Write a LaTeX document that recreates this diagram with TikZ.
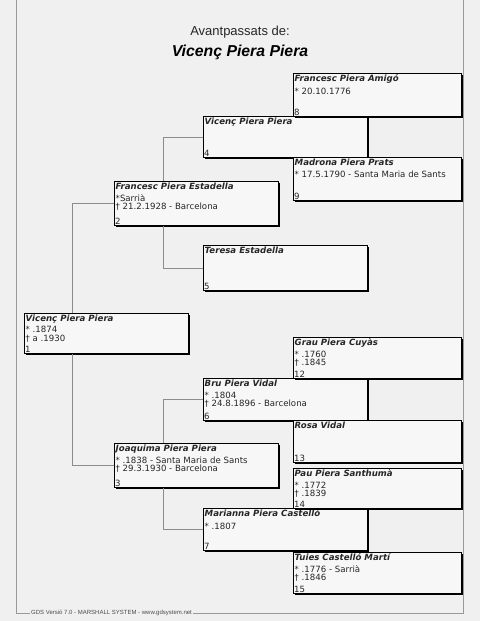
\documentclass[tikz,border=0pt]{standalone}
\usepackage{fontspec}
\setmainfont{DejaVu Sans}
\newfontfamily\titlefont{Liberation Sans}
\usetikzlibrary{positioning, shadows}

\begin{document}
\begin{tikzpicture}[
    x=1pt, y=-1pt,
    pbox/.style={rectangle, draw=black, line width=0.8pt, fill=black!3, anchor=north west, minimum width=164pt, inner sep=0pt,
        drop shadow={shadow xshift=1.6pt, shadow yshift=-1.6pt, fill=black, opacity=1}},
    wbox/.style={pbox, minimum width=168pt},
    nm/.style={anchor=north west, inner sep=1.5pt, align=left, font=\fontsize{8.6}{10.4}\selectfont, text=black!85},
    nr/.style={anchor=south west, inner sep=1pt, font=\fontsize{8.6}{9}\selectfont, text=black!85},
    link/.style={draw=black!45, line width=0.7pt},
    frame/.style={draw=black!40, line width=0.6pt}
]
    \newcommand{\nom}[1]{\textbf{\textit{#1}}}
    % fons i marc
    \fill[black!6] (0,0) rectangle (480,621);
    \useasboundingbox (0,0) rectangle (480,621);
    \draw[frame] (16,0) -- (16,613) -- (463,613) -- (463,0);

    % capçalera
    \node[font=\titlefont\fontsize{13}{14}\selectfont, text=black!85] (titol) at (240,32) {Avantpassats de:};
    \node[font=\titlefont\bfseries\itshape\fontsize{15.8}{17}\selectfont, below=0pt of titol] (nomtitol) {Vicenç Piera Piera};

    % generació 1
    \node[pbox, minimum height=40pt, label={[nm]north west:{\nom{Vicenç Piera Piera}\\[1pt]* .1874\\[-2pt]† a .1930}}, label={[nr]south west:1}] (p1) at (24,313) {};

    % generació 2
    \node[pbox, minimum height=44pt, label={[nm]north west:{\nom{Francesc Piera Estadella}\\[1.5pt]*Sarrià\\[-2pt]† 21.2.1928 - Barcelona}}, label={[nr]south west:2}] (p2) at (114,181) {};
    \node[pbox, minimum height=44pt, label={[nm]north west:{\nom{Joaquima Piera Piera}\\[1.5pt]* .1838 - Santa Maria de Sants\\[-2pt]† 29.3.1930 - Barcelona}}, label={[nr]south west:3}] (p3) at (114,443) {};

    % generació 3
    \node[pbox, minimum height=41pt, label={[nm]north west:{\nom{Vicenç Piera Piera}}}, label={[nr]south west:4}] (p4) at (203,116) {};
    \node[pbox, minimum height=45pt, label={[nm]north west:{\nom{Teresa Estadella}}}, label={[nr]south west:5}] (p5) at (203,245) {};
    \node[pbox, minimum height=42pt, label={[nm]north west:{\nom{Bru Piera Vidal}\\[1.5pt]* .1804\\[-2pt]† 24.8.1896 - Barcelona}}, label={[nr]south west:6}] (p6) at (203,378) {};
    \node[pbox, minimum height=42pt, label={[nm]north west:{\nom{Marianna Piera Castelló}\\[2.5pt]* .1807}}, label={[nr]south west:7}] (p7) at (203,508) {};

    % generació 4
    \node[wbox, minimum height=43pt, label={[nm]north west:{\nom{Francesc Piera Amigó}\\[2.5pt]* 20.10.1776}}, label={[nr]south west:8}] (p8) at (293,73) {};
    \node[wbox, minimum height=43pt, label={[nm]north west:{\nom{Madrona Piera Prats}\\[2pt]* 17.5.1790 - Santa Maria de Sants}}, label={[nr]south west:9}] (p9) at (293,157) {};
    \node[wbox, minimum height=41pt, label={[nm]north west:{\nom{Grau Piera Cuyàs}\\[1.5pt]* .1760\\[-2pt]† .1845}}, label={[nr]south west:12}] (p12) at (293,337) {};
    \node[wbox, minimum height=42pt, label={[nm]north west:{\nom{Rosa Vidal}}}, label={[nr]south west:13}] (p13) at (293,420) {};
    \node[wbox, minimum height=40pt, label={[nm]north west:{\nom{Pau Piera Santhumà}\\[1.5pt]* .1772\\[-2pt]† .1839}}, label={[nr]south west:14}] (p14) at (293,468) {};
    \node[wbox, minimum height=41pt, label={[nm]north west:{\nom{Tuies Castelló Martí}\\[1.5pt]* .1776 - Sarrià\\[-2pt]† .1846}}, label={[nr]south west:15}] (p15) at (293,552) {};

    % línies de parentiu
    \draw[link] (p2.west) -| ([xshift=48pt]p1.north west);
    \draw[link] (p3.west) -| ([xshift=48pt]p1.south west);
    \draw[link] (p4.west) -| ([xshift=49pt]p2.north west);
    \draw[link] (p5.west) -| ([xshift=49pt]p2.south west);
    \draw[link] (p6.west) -| ([xshift=49pt]p3.north west);
    \draw[link] (p7.west) -| ([xshift=49pt]p3.south west);
    \draw[link, draw=black, line width=0.8pt] (p8.south -| p4.east) -- (p9.north -| p4.east);
    \draw[link, draw=black, line width=0.8pt] (p12.south -| p6.east) -- (p13.north -| p6.east);
    \draw[link, draw=black, line width=0.8pt] (p14.south -| p7.east) -- (p15.north -| p7.east);

    % peu
    \node[anchor=west, fill=black!6, inner sep=1pt, font=\titlefont\fontsize{6}{7}\selectfont, text=black!70] (peu) at (30,613) {GDS Versió 7.0 - MARSHALL SYSTEM - www.gdsystem.net};
\end{tikzpicture}
\end{document}
